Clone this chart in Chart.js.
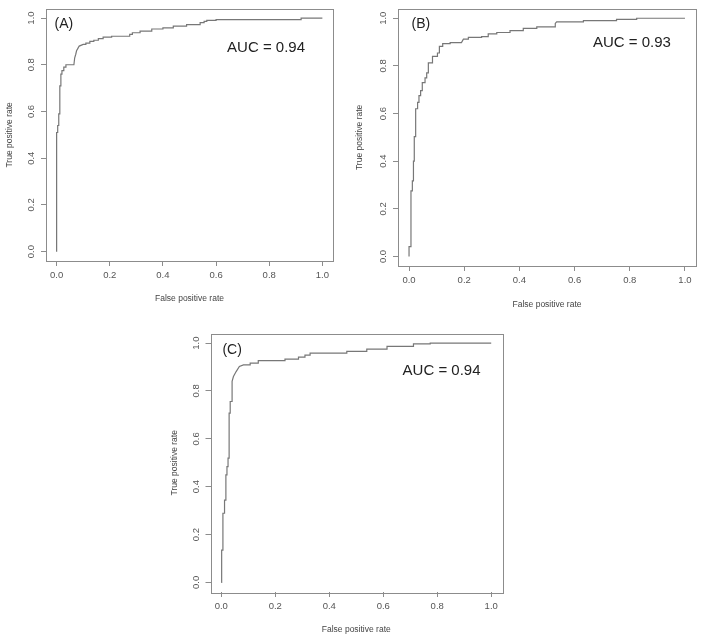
<!DOCTYPE html>
<html>
<head>
<meta charset="utf-8">
<script src="https://cdn.jsdelivr.net/npm/chart.js@4"></script>
<style>
  html, body { margin: 0; padding: 0; background: #fff; overflow: hidden; }
  body { width: 705px; height: 639px; position: relative; }
  canvas { position: absolute; }
</style>
</head>
<body>
<canvas id="rocA" width="345" height="310" style="left:0px;top:0px"></canvas>
<canvas id="rocB" width="355" height="316" style="left:350px;top:0px"></canvas>
<canvas id="rocC" width="345" height="321" style="left:165px;top:320px"></canvas>
<script>
// tick values / labels shared by both axes
const tickValues = [0, 0.2, 0.4, 0.6, 0.8, 1.0];
const tickLabels = ['0.0', '0.2', '0.4', '0.6', '0.8', '1.0'];

// (A)
const fprA = [0, 0, 0.004, 0.004, 0.008, 0.008, 0.012, 0.012, 0.016, 0.016, 0.02, 0.02, 0.027, 0.027,
  0.035, 0.035, 0.065, 0.068, 0.072, 0.075, 0.08, 0.085, 0.1, 0.11, 0.11, 0.125, 0.125, 0.14, 0.14,
  0.157, 0.157, 0.175, 0.175, 0.207, 0.207, 0.275, 0.275, 0.285, 0.285, 0.314, 0.314, 0.358, 0.358,
  0.4, 0.4, 0.439, 0.439, 0.489, 0.489, 0.54, 0.54, 0.555, 0.555, 0.565, 0.565, 0.6, 0.6, 0.92, 0.92, 1];
const tprA = [0, 0.51, 0.51, 0.54, 0.54, 0.59, 0.59, 0.71, 0.71, 0.76, 0.76, 0.775, 0.775, 0.79,
  0.79, 0.80, 0.80, 0.83, 0.845, 0.86, 0.87, 0.88, 0.887, 0.887, 0.893, 0.893, 0.9, 0.9, 0.905,
  0.905, 0.912, 0.912, 0.918, 0.918, 0.922, 0.922, 0.93, 0.93, 0.937, 0.937, 0.944, 0.944, 0.953,
  0.953, 0.958, 0.958, 0.965, 0.965, 0.972, 0.972, 0.98, 0.98, 0.986, 0.986, 0.99, 0.99, 0.993, 0.993, 1, 1];

// (B)
const fprB = [0, 0, 0.007, 0.007, 0.012, 0.012, 0.016, 0.016, 0.019, 0.019, 0.024, 0.024, 0.031, 0.031,
  0.036, 0.036, 0.042, 0.042, 0.048, 0.048, 0.058, 0.058, 0.064, 0.064, 0.07, 0.07, 0.085, 0.085,
  0.103, 0.103, 0.11, 0.11, 0.122, 0.122, 0.149, 0.149, 0.19, 0.197, 0.215, 0.215, 0.263, 0.263,
  0.287, 0.287, 0.318, 0.318, 0.366, 0.366, 0.414, 0.414, 0.463, 0.463, 0.53, 0.53, 0.535, 0.632,
  0.632, 0.752, 0.752, 0.825, 0.825, 1];
const tprB = [0, 0.041, 0.041, 0.275, 0.275, 0.317, 0.317, 0.4, 0.4, 0.503, 0.503, 0.62, 0.62, 0.647,
  0.647, 0.675, 0.675, 0.696, 0.696, 0.73, 0.73, 0.75, 0.75, 0.771, 0.771, 0.813, 0.813, 0.84,
  0.84, 0.854, 0.854, 0.882, 0.882, 0.893, 0.893, 0.898, 0.898, 0.912, 0.912, 0.92, 0.92, 0.923,
  0.923, 0.934, 0.934, 0.94, 0.94, 0.948, 0.948, 0.957, 0.957, 0.964, 0.964, 0.978, 0.985, 0.985,
  0.99, 0.99, 0.995, 0.995, 1, 1];

// (C)
const fprC = [0, 0, 0.002, 0.002, 0.006, 0.006, 0.012, 0.012, 0.017, 0.017, 0.021, 0.021, 0.025, 0.025,
  0.029, 0.029, 0.033, 0.033, 0.04, 0.04, 0.045, 0.055, 0.067, 0.082, 0.107, 0.107, 0.137, 0.137,
  0.236, 0.236, 0.286, 0.286, 0.31, 0.31, 0.329, 0.329, 0.465, 0.465, 0.539, 0.539, 0.614, 0.614,
  0.712, 0.712, 0.774, 0.774, 1];
const tprC = [0, 0.031, 0.031, 0.135, 0.135, 0.289, 0.289, 0.344, 0.344, 0.449, 0.449, 0.484, 0.484, 0.519,
  0.519, 0.707, 0.707, 0.756, 0.756, 0.84, 0.86, 0.881, 0.902, 0.909, 0.909, 0.916, 0.916, 0.927,
  0.927, 0.933, 0.933, 0.941, 0.941, 0.95, 0.95, 0.958, 0.958, 0.965, 0.965, 0.975, 0.975, 0.986,
  0.986, 0.997, 0.997, 1, 1];

const panelTags = ['(A)', '(B)', '(C)'];
const aucLabels = ['AUC = 0.94', 'AUC = 0.93', 'AUC = 0.94'];

const FONT = "'Liberation Sans', Arial, Helvetica, sans-serif";

// box around the plot region + text annotations placed in data units
const boxAndText = {
  id: 'boxAndText',
  afterDraw(chart, args, opts) {
    const {ctx, chartArea: a, scales: {x, y}} = chart;
    ctx.save();
    ctx.strokeStyle = '#8c8c8c';
    ctx.lineWidth = 1;
    ctx.strokeRect(Math.round(a.left) + 0.5, Math.round(a.top) + 0.5,
      Math.round(a.right - a.left), Math.round(a.bottom - a.top));
    ctx.textBaseline = 'middle';
    ctx.fillStyle = '#222';
    ctx.font = '14px ' + FONT;
    ctx.textAlign = 'center';
    ctx.fillText(opts.tag, x.getPixelForValue(opts.tagAt[0]), y.getPixelForValue(opts.tagAt[1]));
    ctx.font = '15px ' + FONT;
    ctx.fillText(opts.auc, x.getPixelForValue(opts.aucAt[0]), y.getPixelForValue(opts.aucAt[1]));
    ctx.restore();
  }
};

function makeRoc(id, fpr, tpr, idx, lay) {
  const pts = fpr.map((v, i) => ({x: v, y: tpr[i]}));
  const axisCommon = {
    type: 'linear',
    min: -0.04,
    max: 1.04,
    afterBuildTicks: s => { s.ticks = tickValues.map(v => ({value: v})); },
    grid: { display: true, drawOnChartArea: false, drawTicks: true, tickLength: 5, color: '#8c8c8c', lineWidth: 1 },
    border: { display: false },
  };
  return new Chart(document.getElementById(id), {
    type: 'scatter',
    data: {
      datasets: [{
        data: pts,
        showLine: true,
        borderColor: '#777',
        borderWidth: 1.2,
        pointRadius: 0,
        fill: false,
        tension: 0
      }]
    },
    options: {
      responsive: false,
      animation: false,
      devicePixelRatio: 1,
      layout: { padding: { left: 0, top: lay.top, right: lay.right, bottom: 0 } },
      plugins: {
        legend: { display: false },
        tooltip: { enabled: false },
        boxAndText: { tag: panelTags[idx], tagAt: lay.tagAt, auc: aucLabels[idx], aucAt: lay.aucAt }
      },
      scales: {
        x: Object.assign({}, axisCommon, {
          position: 'bottom',
          afterFit: s => { s.height = lay.xh; },
          ticks: {
            color: '#555', font: { family: FONT, size: 9.5 }, padding: 4,
            maxRotation: 0, minRotation: 0,
            callback: (v) => tickLabels[tickValues.indexOf(v)]
          },
          title: { display: true, text: 'False positive rate', color: '#444',
            font: { family: FONT, size: 8.5 }, padding: { top: 0, bottom: 6 } }
        }),
        y: Object.assign({}, axisCommon, {
          position: 'left',
          afterFit: s => { s.width = lay.yw; },
          ticks: {
            color: '#555', font: { family: FONT, size: 9.5 }, padding: 3,
            minRotation: 90, maxRotation: 90, crossAlign: 'center',
            callback: (v) => tickLabels[tickValues.indexOf(v)]
          },
          title: { display: true, text: 'True positive rate', color: '#444',
            font: { family: FONT, size: 8.5 }, padding: { top: lay.ytp, bottom: 0 } }
        })
      }
    },
    plugins: [boxAndText]
  });
}

makeRoc('rocA', fprA, tprA, 0, { top: 5.5, right: 12, xh: 49, yw: 46, ytp: 5, tagAt: [0.027, 0.972], aucAt: [0.788, 0.873] });
makeRoc('rocB', fprB, tprB, 1, { top: 5, right: 9, xh: 50, yw: 48, ytp: 5, tagAt: [0.043, 0.974], aucAt: [0.808, 0.898] });
makeRoc('rocC', fprC, tprC, 2, { top: 13.5, right: 8, xh: 49, yw: 45.5, ytp: 5, tagAt: [0.04, 0.969], aucAt: [0.816, 0.884] });
</script>
</body>
</html>
